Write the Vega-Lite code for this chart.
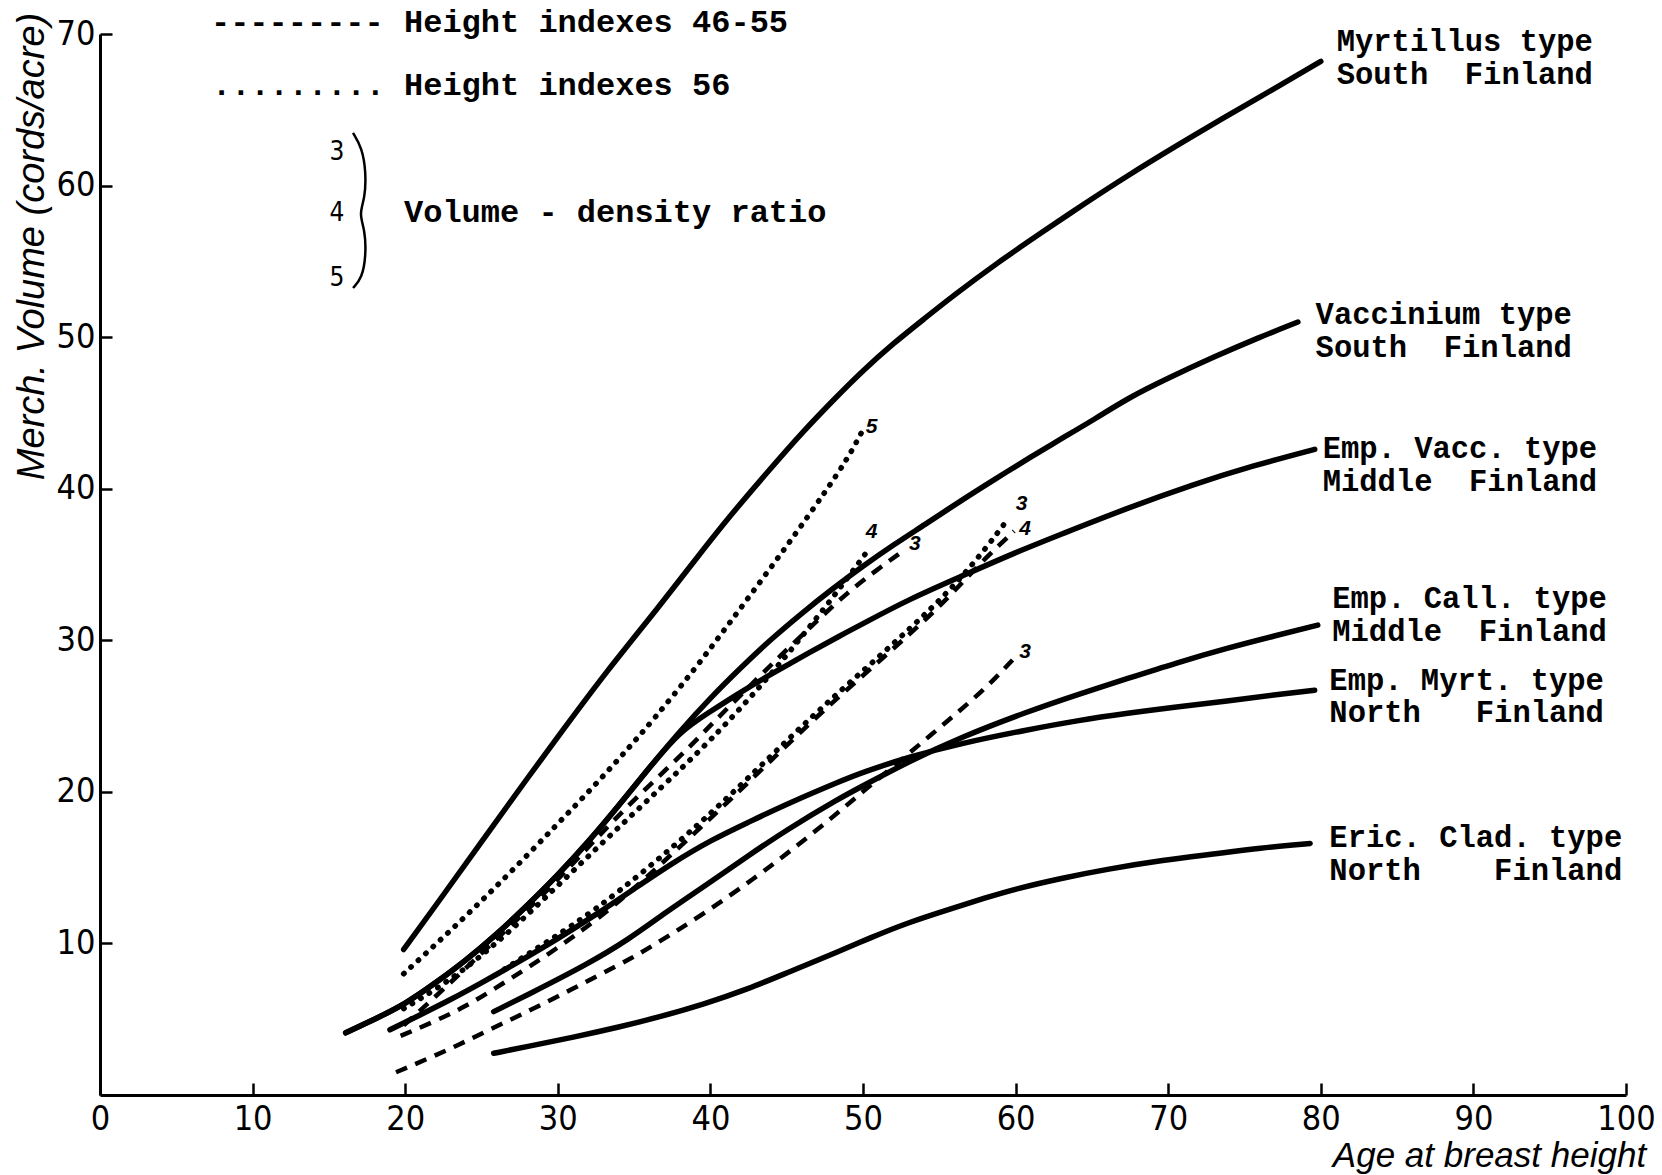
{
"$schema":"https://vega.github.io/schema/vega-lite/v6.json",
"width":1526,"height":1061,
"autosize":{"type":"none"},
"padding":{"left":100,"top":34,"right":36,"bottom":80},
"background":"white",
"config":{"view":{"stroke":null}},
"datasets":{
"curves":[
{"series":"Myrt","style":"solid","x":19.9,"y":9.6},{"series":"Myrt","style":"solid","x":22,"y":12.5},{"series":"Myrt","style":"solid","x":25,"y":16.7},{"series":"Myrt","style":"solid","x":28,"y":20.9},{"series":"Myrt","style":"solid","x":30.5,"y":24.3},{"series":"Myrt","style":"solid","x":33,"y":27.7},{"series":"Myrt","style":"solid","x":36.7,"y":32.3},{"series":"Myrt","style":"solid","x":39,"y":35.3},{"series":"Myrt","style":"solid","x":41.1,"y":38.0},{"series":"Myrt","style":"solid","x":44,"y":41.4},{"series":"Myrt","style":"solid","x":46,"y":43.7},{"series":"Myrt","style":"solid","x":48.3,"y":46.1},{"series":"Myrt","style":"solid","x":50,"y":47.8},{"series":"Myrt","style":"solid","x":52,"y":49.6},{"series":"Myrt","style":"solid","x":54,"y":51.2},{"series":"Myrt","style":"solid","x":56,"y":52.8},{"series":"Myrt","style":"solid","x":58.8,"y":54.9},{"series":"Myrt","style":"solid","x":61.7,"y":56.9},{"series":"Myrt","style":"solid","x":64.5,"y":58.8},{"series":"Myrt","style":"solid","x":67.4,"y":60.7},{"series":"Myrt","style":"solid","x":70.5,"y":62.6},{"series":"Myrt","style":"solid","x":73.5,"y":64.4},{"series":"Myrt","style":"solid","x":76.8,"y":66.3},{"series":"Myrt","style":"solid","x":80,"y":68.2},
{"series":"Vacc","style":"solid","x":16.1,"y":4.1},{"series":"Vacc","style":"solid","x":18,"y":5.0},{"series":"Vacc","style":"solid","x":20,"y":6.0},{"series":"Vacc","style":"solid","x":22,"y":7.4},{"series":"Vacc","style":"solid","x":24,"y":8.9},{"series":"Vacc","style":"solid","x":26,"y":10.6},{"series":"Vacc","style":"solid","x":28,"y":12.5},{"series":"Vacc","style":"solid","x":30,"y":14.5},{"series":"Vacc","style":"solid","x":32,"y":16.7},{"series":"Vacc","style":"solid","x":34,"y":19.1},{"series":"Vacc","style":"solid","x":36,"y":21.6},{"series":"Vacc","style":"solid","x":38,"y":24.0},{"series":"Vacc","style":"solid","x":40,"y":26.2},{"series":"Vacc","style":"solid","x":42,"y":28.2},{"series":"Vacc","style":"solid","x":44,"y":30.1},{"series":"Vacc","style":"solid","x":46,"y":31.8},{"series":"Vacc","style":"solid","x":48,"y":33.4},{"series":"Vacc","style":"solid","x":50,"y":34.9},{"series":"Vacc","style":"solid","x":52,"y":36.3},{"series":"Vacc","style":"solid","x":54,"y":37.6},{"series":"Vacc","style":"solid","x":56.4,"y":39.2},{"series":"Vacc","style":"solid","x":58.6,"y":40.6},{"series":"Vacc","style":"solid","x":61,"y":42.1},{"series":"Vacc","style":"solid","x":63,"y":43.3},{"series":"Vacc","style":"solid","x":65.2,"y":44.6},{"series":"Vacc","style":"solid","x":67.4,"y":46.0},{"series":"Vacc","style":"solid","x":70,"y":47.3},{"series":"Vacc","style":"solid","x":73,"y":48.7},{"series":"Vacc","style":"solid","x":76,"y":50.0},{"series":"Vacc","style":"solid","x":78.5,"y":51.0},
{"series":"EmpVacc","style":"solid","x":16.1,"y":4.1},{"series":"EmpVacc","style":"solid","x":18,"y":5.0},{"series":"EmpVacc","style":"solid","x":20,"y":6.0},{"series":"EmpVacc","style":"solid","x":22,"y":7.4},{"series":"EmpVacc","style":"solid","x":24,"y":8.9},{"series":"EmpVacc","style":"solid","x":26,"y":10.6},{"series":"EmpVacc","style":"solid","x":28,"y":12.5},{"series":"EmpVacc","style":"solid","x":30,"y":14.5},{"series":"EmpVacc","style":"solid","x":32,"y":16.7},{"series":"EmpVacc","style":"solid","x":34,"y":19.1},{"series":"EmpVacc","style":"solid","x":36,"y":21.6},{"series":"EmpVacc","style":"solid","x":38,"y":24.0},{"series":"EmpVacc","style":"solid","x":40,"y":25.3},{"series":"EmpVacc","style":"solid","x":42,"y":26.6},{"series":"EmpVacc","style":"solid","x":44.2,"y":27.9},{"series":"EmpVacc","style":"solid","x":46.5,"y":29.2},{"series":"EmpVacc","style":"solid","x":48.5,"y":30.3},{"series":"EmpVacc","style":"solid","x":50,"y":31.1},{"series":"EmpVacc","style":"solid","x":53,"y":32.7},{"series":"EmpVacc","style":"solid","x":56.4,"y":34.2},{"series":"EmpVacc","style":"solid","x":60,"y":35.8},{"series":"EmpVacc","style":"solid","x":63,"y":37.0},{"series":"EmpVacc","style":"solid","x":67,"y":38.6},{"series":"EmpVacc","style":"solid","x":71.7,"y":40.3},{"series":"EmpVacc","style":"solid","x":75.5,"y":41.5},{"series":"EmpVacc","style":"solid","x":79.6,"y":42.6},
{"series":"EmpCall","style":"solid","x":25.8,"y":5.5},{"series":"EmpCall","style":"solid","x":28,"y":6.6},{"series":"EmpCall","style":"solid","x":31.9,"y":8.6},{"series":"EmpCall","style":"solid","x":34.7,"y":10.3},{"series":"EmpCall","style":"solid","x":37,"y":12.0},{"series":"EmpCall","style":"solid","x":39.8,"y":13.9},{"series":"EmpCall","style":"solid","x":42.5,"y":15.8},{"series":"EmpCall","style":"solid","x":45,"y":17.5},{"series":"EmpCall","style":"solid","x":48.5,"y":19.6},{"series":"EmpCall","style":"solid","x":50,"y":20.4},{"series":"EmpCall","style":"solid","x":53,"y":22.0},{"series":"EmpCall","style":"solid","x":56.4,"y":23.6},{"series":"EmpCall","style":"solid","x":60.8,"y":25.3},{"series":"EmpCall","style":"solid","x":64,"y":26.4},{"series":"EmpCall","style":"solid","x":67.4,"y":27.5},{"series":"EmpCall","style":"solid","x":70.5,"y":28.5},{"series":"EmpCall","style":"solid","x":73.9,"y":29.5},{"series":"EmpCall","style":"solid","x":77,"y":30.3},{"series":"EmpCall","style":"solid","x":79.8,"y":31.0},
{"series":"EmpMyrt","style":"solid","x":19,"y":4.3},{"series":"EmpMyrt","style":"solid","x":21,"y":5.3},{"series":"EmpMyrt","style":"solid","x":23,"y":6.3},{"series":"EmpMyrt","style":"solid","x":25,"y":7.4},{"series":"EmpMyrt","style":"solid","x":27.3,"y":8.7},{"series":"EmpMyrt","style":"solid","x":30,"y":10.3},{"series":"EmpMyrt","style":"solid","x":32.5,"y":11.9},{"series":"EmpMyrt","style":"solid","x":35,"y":13.6},{"series":"EmpMyrt","style":"solid","x":37.5,"y":15.3},{"series":"EmpMyrt","style":"solid","x":40,"y":16.8},{"series":"EmpMyrt","style":"solid","x":42.5,"y":18.0},{"series":"EmpMyrt","style":"solid","x":45,"y":19.2},{"series":"EmpMyrt","style":"solid","x":48.5,"y":20.7},{"series":"EmpMyrt","style":"solid","x":50,"y":21.3},{"series":"EmpMyrt","style":"solid","x":53,"y":22.3},{"series":"EmpMyrt","style":"solid","x":56.4,"y":23.2},{"series":"EmpMyrt","style":"solid","x":60.8,"y":24.1},{"series":"EmpMyrt","style":"solid","x":64,"y":24.7},{"series":"EmpMyrt","style":"solid","x":67.4,"y":25.2},{"series":"EmpMyrt","style":"solid","x":70.5,"y":25.6},{"series":"EmpMyrt","style":"solid","x":73.9,"y":26.0},{"series":"EmpMyrt","style":"solid","x":77,"y":26.4},{"series":"EmpMyrt","style":"solid","x":79.6,"y":26.7},
{"series":"Eric","style":"solid","x":25.8,"y":2.75},{"series":"Eric","style":"solid","x":28,"y":3.2},{"series":"Eric","style":"solid","x":31,"y":3.8},{"series":"Eric","style":"solid","x":34.1,"y":4.5},{"series":"Eric","style":"solid","x":36.5,"y":5.1},{"series":"Eric","style":"solid","x":39.6,"y":6.0},{"series":"Eric","style":"solid","x":42.5,"y":7.0},{"series":"Eric","style":"solid","x":45.1,"y":8.1},{"series":"Eric","style":"solid","x":48.5,"y":9.5},{"series":"Eric","style":"solid","x":50.3,"y":10.3},{"series":"Eric","style":"solid","x":53,"y":11.4},{"series":"Eric","style":"solid","x":55.8,"y":12.3},{"series":"Eric","style":"solid","x":58,"y":13.0},{"series":"Eric","style":"solid","x":60,"y":13.6},{"series":"Eric","style":"solid","x":63,"y":14.3},{"series":"Eric","style":"solid","x":66,"y":14.9},{"series":"Eric","style":"solid","x":69.7,"y":15.5},{"series":"Eric","style":"solid","x":73,"y":15.9},{"series":"Eric","style":"solid","x":76,"y":16.3},{"series":"Eric","style":"solid","x":79.3,"y":16.6},
{"series":"D5","style":"dotted","x":19.9,"y":8.0},{"series":"D5","style":"dotted","x":22.5,"y":10.4},{"series":"D5","style":"dotted","x":25,"y":12.8},{"series":"D5","style":"dotted","x":27.5,"y":15.3},{"series":"D5","style":"dotted","x":30,"y":17.9},{"series":"D5","style":"dotted","x":32.3,"y":20.3},{"series":"D5","style":"dotted","x":34.3,"y":22.5},{"series":"D5","style":"dotted","x":36.3,"y":24.8},{"series":"D5","style":"dotted","x":38.9,"y":28.0},{"series":"D5","style":"dotted","x":41,"y":30.8},{"series":"D5","style":"dotted","x":43.3,"y":33.9},{"series":"D5","style":"dotted","x":45.5,"y":36.9},{"series":"D5","style":"dotted","x":47.6,"y":39.9},{"series":"D5","style":"dotted","x":49,"y":42.0},{"series":"D5","style":"dotted","x":49.9,"y":43.7},
{"series":"D4","style":"dotted","x":19.9,"y":5.7},{"series":"D4","style":"dotted","x":21.9,"y":6.9},{"series":"D4","style":"dotted","x":23.9,"y":8.3},{"series":"D4","style":"dotted","x":25.7,"y":9.8},{"series":"D4","style":"dotted","x":27.4,"y":11.3},{"series":"D4","style":"dotted","x":30.5,"y":14.3},{"series":"D4","style":"dotted","x":33.5,"y":17.2},{"series":"D4","style":"dotted","x":36.8,"y":20.3},{"series":"D4","style":"dotted","x":39.6,"y":23.0},{"series":"D4","style":"dotted","x":41.5,"y":25.0},{"series":"D4","style":"dotted","x":43.3,"y":27.0},{"series":"D4","style":"dotted","x":45,"y":29.0},{"series":"D4","style":"dotted","x":47.7,"y":32.4},{"series":"D4","style":"dotted","x":49.2,"y":34.4},{"series":"D4","style":"dotted","x":50.3,"y":35.9},
{"series":"D3","style":"dotted","x":26.5,"y":8.3},{"series":"D3","style":"dotted","x":28.2,"y":9.4},{"series":"D3","style":"dotted","x":31,"y":11.2},{"series":"D3","style":"dotted","x":34,"y":13.4},{"series":"D3","style":"dotted","x":37.6,"y":16.4},{"series":"D3","style":"dotted","x":40.7,"y":19.2},{"series":"D3","style":"dotted","x":44,"y":22.4},{"series":"D3","style":"dotted","x":47.2,"y":25.5},{"series":"D3","style":"dotted","x":51.6,"y":29.4},{"series":"D3","style":"dotted","x":54.7,"y":32.3},{"series":"D3","style":"dotted","x":56.4,"y":34.1},{"series":"D3","style":"dotted","x":58,"y":36.0},{"series":"D3","style":"dotted","x":59.5,"y":38.0},
{"series":"d5","style":"dashed","x":19.9,"y":4.6},{"series":"d5","style":"dashed","x":22,"y":6.5},{"series":"d5","style":"dashed","x":24,"y":8.4},{"series":"d5","style":"dashed","x":26,"y":10.3},{"series":"d5","style":"dashed","x":28,"y":12.2},{"series":"d5","style":"dashed","x":30,"y":14.2},{"series":"d5","style":"dashed","x":32.4,"y":16.8},{"series":"d5","style":"dashed","x":35,"y":19.5},{"series":"d5","style":"dashed","x":38.3,"y":22.6},{"series":"d5","style":"dashed","x":40.2,"y":24.6},{"series":"d5","style":"dashed","x":42.5,"y":26.9},{"series":"d5","style":"dashed","x":44.6,"y":29.0},{"series":"d5","style":"dashed","x":46.8,"y":31.1},{"series":"d5","style":"dashed","x":48.8,"y":33.0},{"series":"d5","style":"dashed","x":50.7,"y":34.5},{"series":"d5","style":"dashed","x":52.5,"y":35.8},
{"series":"d4","style":"dashed","x":19.7,"y":3.9},{"series":"d4","style":"dashed","x":21.8,"y":4.8},{"series":"d4","style":"dashed","x":23.9,"y":5.8},{"series":"d4","style":"dashed","x":26,"y":7.1},{"series":"d4","style":"dashed","x":28.2,"y":8.5},{"series":"d4","style":"dashed","x":31,"y":10.4},{"series":"d4","style":"dashed","x":34,"y":12.7},{"series":"d4","style":"dashed","x":37.6,"y":16.0},{"series":"d4","style":"dashed","x":40.7,"y":18.9},{"series":"d4","style":"dashed","x":44,"y":22.1},{"series":"d4","style":"dashed","x":47.2,"y":25.2},{"series":"d4","style":"dashed","x":51.6,"y":29.1},{"series":"d4","style":"dashed","x":54.7,"y":31.9},{"series":"d4","style":"dashed","x":56.4,"y":33.7},{"series":"d4","style":"dashed","x":58,"y":35.4},{"series":"d4","style":"dashed","x":59.9,"y":37.2},
{"series":"d3","style":"dashed","x":19.4,"y":1.5},{"series":"d3","style":"dashed","x":21.5,"y":2.4},{"series":"d3","style":"dashed","x":23.5,"y":3.3},{"series":"d3","style":"dashed","x":25.5,"y":4.3},{"series":"d3","style":"dashed","x":27.6,"y":5.3},{"series":"d3","style":"dashed","x":30,"y":6.5},{"series":"d3","style":"dashed","x":32.5,"y":7.8},{"series":"d3","style":"dashed","x":34.8,"y":9.0},{"series":"d3","style":"dashed","x":36.3,"y":9.9},{"series":"d3","style":"dashed","x":39.5,"y":11.9},{"series":"d3","style":"dashed","x":42.9,"y":14.3},{"series":"d3","style":"dashed","x":45.5,"y":16.3},{"series":"d3","style":"dashed","x":48.1,"y":18.4},{"series":"d3","style":"dashed","x":50.2,"y":20.2},{"series":"d3","style":"dashed","x":52.5,"y":22.1},{"series":"d3","style":"dashed","x":54.5,"y":23.8},{"series":"d3","style":"dashed","x":56.4,"y":25.4},{"series":"d3","style":"dashed","x":58.2,"y":27.0},{"series":"d3","style":"dashed","x":59.8,"y":28.7}
],
"brace":[
{"i":0,"x":16.58,"y":63.47},{"i":1,"x":17.17,"y":62.48},{"i":2,"x":17.43,"y":60.9},{"i":3,"x":17.37,"y":59.18},{"i":4,"x":16.97,"y":58.12},{"i":5,"x":17.37,"y":57.07},{"i":6,"x":17.43,"y":55.35},{"i":7,"x":17.17,"y":53.9},{"i":8,"x":16.58,"y":53.24}
],
"curvelabels":[
{"t":["Myrtillus type","South\u00a0\u00a0Finland"],"x":81.04,"y":68.85},
{"t":["Vaccinium type","South\u00a0\u00a0Finland"],"x":79.66,"y":50.85},
{"t":["Emp. Vacc. type","Middle\u00a0\u00a0Finland"],"x":80.12,"y":42.0},
{"t":["Emp. Call. type","Middle\u00a0\u00a0Finland"],"x":80.75,"y":32.1},
{"t":["Emp. Myrt. type","North\u00a0\u00a0\u00a0Finland"],"x":80.56,"y":26.75},
{"t":["Eric. Clad. type","North\u00a0\u00a0\u00a0\u00a0Finland"],"x":80.56,"y":16.33}
],
"legend":[
{"t":"---------","x":7.27,"y":70.13},
{"t":"Height indexes 46-55","x":19.92,"y":70.13},
{"t":".........","x":7.34,"y":65.98},
{"t":"Height indexes 56","x":19.92,"y":65.98},
{"t":"Volume - density ratio","x":19.92,"y":57.6}
],
"ratios":[
{"t":"5","x":50.57,"y":44.09},{"t":"4","x":50.57,"y":37.16},{"t":"3","x":53.4,"y":36.35},{"t":"3","x":60.4,"y":39.0},{"t":"4","x":60.62,"y":37.35},{"t":"3","x":60.62,"y":29.25}
],
"legdigits":[
{"t":"3","x":15.53,"y":62.2},{"t":"4","x":15.53,"y":58.2},{"t":"5","x":15.53,"y":53.9}
]
},
"encoding":{
  "x":{"field":"x","type":"quantitative","scale":{"domain":[0,100],"nice":false,"zero":false},
   "axis":{"values":[0,10,20,30,40,50,60,70,80,90,100],"format":"d","title":"Age at breast height","titleX":1389,"titleY":60,"titleAlign":"center","titleBaseline":"middle","titleAngle":0,"titleFont":"Liberation Sans","titleFontStyle":"italic","titleFontWeight":"normal","titleFontSize":35,"titleColor":"black","labelFont":"DejaVu Sans Condensed","labelFontSize":34,"labelColor":"black","labelPadding":19,"labelFlush":false,"labelOverlap":false,"tickSize":-12,"tickWidth":2.5,"tickColor":"black","domainColor":"black","domainWidth":3,"grid":false}},
  "y":{"field":"y","type":"quantitative","scale":{"domain":[0,70],"nice":false,"zero":false},
   "axis":{"values":[10,20,30,40,50,60,70],"format":"d","title":"Merch. Volume (cords/acre)","titleX":-68,"titleY":212,"titleAlign":"center","titleBaseline":"middle","titleAngle":270,"titleFont":"Liberation Sans","titleFontStyle":"italic","titleFontWeight":"normal","titleFontSize":38,"titleColor":"black","labelFont":"DejaVu Sans Condensed","labelFontSize":34,"labelColor":"black","labelPadding":17,"labelFlush":false,"labelOverlap":false,"tickSize":-12,"tickWidth":2.5,"tickColor":"black","domainColor":"black","domainWidth":3,"grid":false}}
},
"layer":[
{"data":{"name":"curves"},
 "transform":[{"filter":"datum.style === 'solid'"}],
 "mark":{"type":"line","color":"black","strokeWidth":5.5,"strokeCap":"round","strokeJoin":"round","interpolate":"basis"},
 "encoding":{"detail":{"field":"series"}}},
{"data":{"name":"curves"},
 "transform":[{"filter":"datum.style === 'dashed'"}],
 "mark":{"type":"line","color":"black","strokeWidth":4.5,"strokeDash":[12,9],"strokeCap":"butt","interpolate":"basis"},
 "encoding":{"detail":{"field":"series"}}},
{"data":{"name":"curves"},
 "transform":[{"filter":"datum.style === 'dotted'"}],
 "mark":{"type":"line","color":"black","strokeWidth":5.5,"strokeDash":[0.5,9.5],"strokeCap":"round","interpolate":"basis"},
 "encoding":{"detail":{"field":"series"}}},
{"data":{"name":"brace"},
 "mark":{"type":"line","color":"black","strokeWidth":2.5,"interpolate":"basis"},
 "encoding":{"order":{"field":"i","type":"quantitative"}}},
{"data":{"name":"curvelabels"},
 "mark":{"type":"text","font":"Liberation Mono","fontWeight":"bold","fontSize":30.5,"lineHeight":32.5,"align":"left","baseline":"alphabetic","color":"black"},
 "encoding":{"text":{"field":"t"}}},
{"data":{"name":"legend"},
 "mark":{"type":"text","font":"Liberation Mono","fontWeight":"bold","fontSize":32,"align":"left","baseline":"alphabetic","color":"black"},
 "encoding":{"text":{"field":"t"}}},
{"data":{"name":"ratios"},
 "mark":{"type":"text","font":"Liberation Sans","fontStyle":"italic","fontWeight":"bold","fontSize":21,"align":"center","baseline":"middle","color":"black"},
 "encoding":{"text":{"field":"t"}}},
{"data":{"name":"legdigits"},
 "mark":{"type":"text","font":"DejaVu Sans Condensed","fontSize":26,"align":"center","baseline":"middle","color":"black"},
 "encoding":{"text":{"field":"t"}}}
]
}
